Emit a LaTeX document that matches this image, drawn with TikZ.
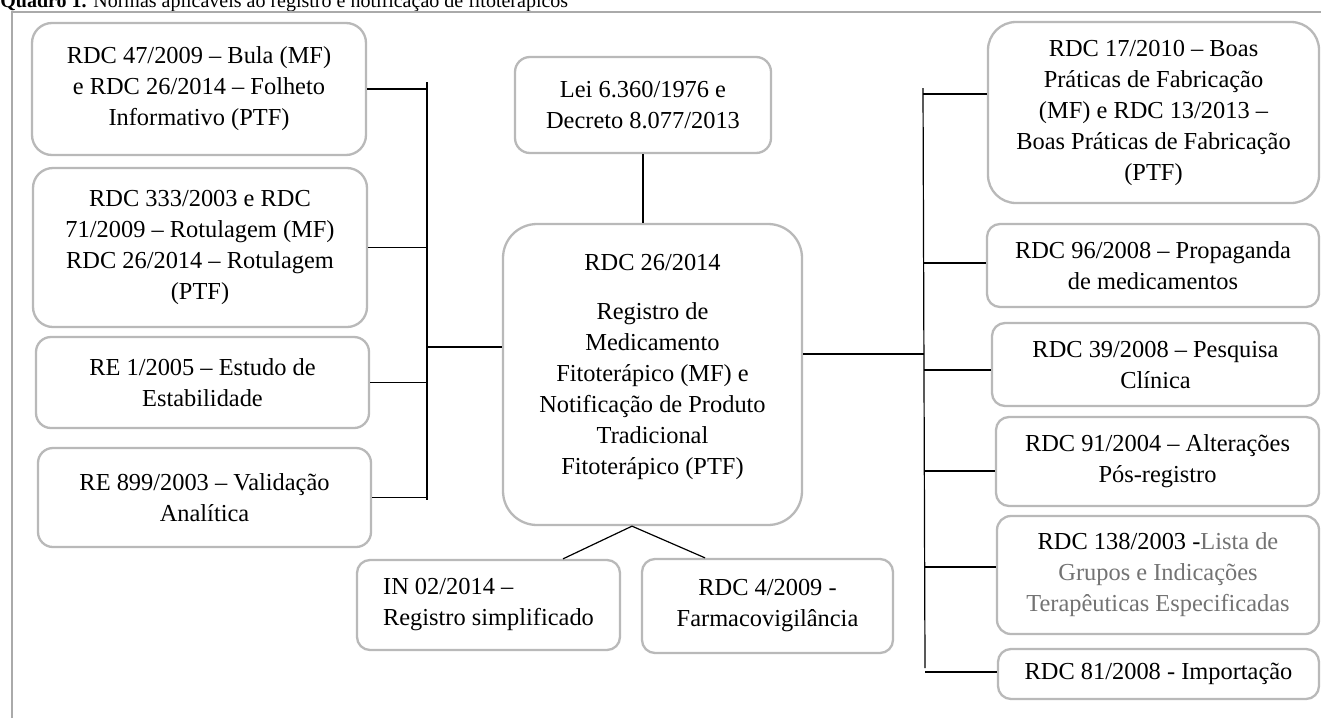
\documentclass[tikz,border=0pt]{standalone}
\usepackage{fontspec}
\setmainfont{Liberation Serif}
\usetikzlibrary{calc}
\newcommand{\fsz}{\fontsize{12.2}{15.5}\selectfont}
\definecolor{boxgray}{RGB}{185,185,185}
\definecolor{framegray}{RGB}{170,170,170}
\definecolor{txtgray}{RGB}{115,115,115}
\tikzset{
  box/.style={draw=boxgray, line width=1.15pt, align=center, font=\fsz, inner sep=0pt},
  plain/.style={align=center, font=\fsz, inner sep=0pt},
  conn/.style={line width=0.6pt, black},
  thick conn/.style={line width=0.95pt, black}
}
\begin{document}
\begin{tikzpicture}[x=0.5pt,y=-0.5pt]
\fill[white] (0,0) rectangle (1321,718);
\useasboundingbox (0,0) rectangle (1321,718);
% title (cropped at top in the reference)
\node[anchor=base west, inner sep=0pt, font=\fontsize{10}{12}\selectfont] (title) at (0,7)
  {\textbf{Quadro 1.} Normas aplicáveis ao registro e notificação de fitoterápicos};
% frame
\draw[framegray, line width=1pt] (12,718) -- (12,12) -- (1321,12);

% left boxes
\node[box, rounded corners=10pt, minimum width=167pt, minimum height=66pt] (L1) at (199,89)
  {RDC 47/2009 – Bula (MF)\\e RDC 26/2014 – Folheto\\Informativo (PTF)};
\node[box, rounded corners=10pt, minimum width=167pt, minimum height=79.5pt] (L2) at (200,247.5)
  {RDC 333/2003 e RDC\\71/2009 – Rotulagem (MF)\\RDC 26/2014 – Rotulagem\\(PTF)};
\node[box, rounded corners=7.5pt, minimum width=166.5pt, minimum height=45.5pt] (L3) at (202.5,382.5)
  {RE 1/2005 – Estudo de\\Estabilidade};
\node[box, rounded corners=7.5pt, minimum width=166.5pt, minimum height=49.5pt] (L4) at (204.5,497.5)
  {RE 899/2003 – Validação\\Analítica};

% top and central
\node[box, rounded corners=7.5pt, minimum width=128pt, minimum height=48pt] (Lei) at (643,105)
  {Lei 6.360/1976 e\\Decreto 8.077/2013};
\node[box, rounded corners=17pt, minimum width=149.5pt, minimum height=150.5pt] (C) at (652.5,374.5) {};
\node[plain] (Ct) at (652.5,366.5)
  {RDC 26/2014\\[9pt]Registro de\\Medicamento\\Fitoterápico (MF) e\\Notificação de Produto\\Tradicional\\Fitoterápico (PTF)};

% bottom boxes
\node[box, rounded corners=6.5pt, minimum width=131.5pt, minimum height=45pt, align=left] (B1) at (488.5,605)
  {IN 02/2014 –\\Registro simplificado};
\node[box, rounded corners=6.5pt, minimum width=125.5pt, minimum height=47pt] (B2) at (767.5,606)
  {RDC 4/2009 -\\Farmacovigilância};

% right boxes
\node[box, rounded corners=14pt, minimum width=165.5pt, minimum height=90.5pt] (R1) at (1153.5,112.5)
  {RDC 17/2010 – Boas\\Práticas de Fabricação\\(MF) e RDC 13/2013 –\\Boas Práticas de Fabricação\\(PTF)};
\node[box, rounded corners=6.5pt, minimum width=166pt, minimum height=41.5pt] (R2) at (1153,265.5)
  {RDC 96/2008 – Propaganda\\de medicamentos};
\node[box, rounded corners=6.5pt, minimum width=163.5pt, minimum height=41.5pt] (R3) at (1155.5,364.5)
  {RDC 39/2008 – Pesquisa\\Clínica};
\node[box, rounded corners=6.5pt, minimum width=161.5pt, minimum height=44.5pt] (R4) at (1157.5,461.5)
  {RDC 91/2004 – Alterações\\Pós-registro};
\node[box, rounded corners=7pt, minimum width=161pt, minimum height=59pt] (R5) at (1158,575)
  {RDC 138/2003 -\textcolor{txtgray}{Lista de}\\\textcolor{txtgray}{Grupos e Indicações}\\\textcolor{txtgray}{Terapêuticas Especificadas}};
\node[box, rounded corners=6.5pt, minimum width=160.5pt, minimum height=25pt] (R6) at (1158.5,674)
  {RDC 81/2008 - Importação};

% left bus
\coordinate (LbT) at (427,82);
\coordinate (LbB) at (427,500);
\coordinate (lj) at (427,347);
\draw[conn] (LbT) -- (LbB);
\draw[conn] (L1.east) -- (L1.east -| LbT);
\draw[conn] (L2.east) -- (L2.east -| LbT);
\draw[thick conn] (L3.east) -- (L3.east -| LbT);
\draw[conn] (L4.east) -- (L4.east -| LbT);
\draw[thick conn] (lj) -- (lj -| C.west);

% top link
\draw[conn] (Lei.south) -- (Lei.south |- C.north);

% bottom links
\coordinate (apex) at ([xshift=-10.25pt]C.south);
\draw[conn] ([xshift=37.25pt]B1.north) -- (apex) -- ([xshift=-31.25pt]B2.north);

% right bus
\coordinate (RbT) at (923,88);
\coordinate (RbB) at (925,668);
\draw[conn] (RbT) -- (RbB);
\coordinate (rj) at (924,354);
\draw[conn] (C.east |- rj) -- (rj);
\coordinate (r1) at (923,94);
\coordinate (r2) at (923,263);
\coordinate (r3) at (924,370);
\coordinate (r4) at (924,471);
\coordinate (r5) at (925,567);
\coordinate (r6) at (925,672);
\draw[thick conn] (r1) -- (r1 -| R1.west);
\draw[thick conn] (r2) -- (r2 -| R2.west);
\draw[conn] (r3) -- (r3 -| R3.west);
\draw[conn] (r4) -- (r4 -| R4.west);
\draw[thick conn] (r5) -- (r5 -| R5.west);
\draw[conn] (r6) -- (r6 -| R6.west);
\end{tikzpicture}
\end{document}
